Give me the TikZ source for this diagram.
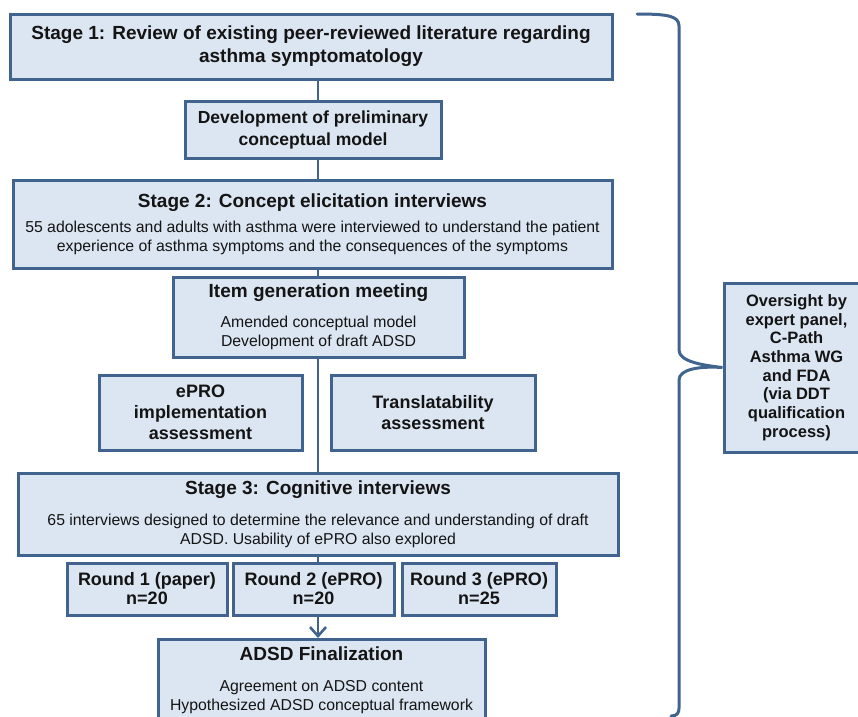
\documentclass[tikz,border=0pt]{standalone}
\usepackage{fontspec}
\setmainfont{Liberation Sans}
\usetikzlibrary{arrows.meta}
\definecolor{bord}{HTML}{41648F}
\definecolor{boxfill}{HTML}{DCE6F2}
\definecolor{txt}{HTML}{141414}
\newcommand\ttlfont{\fontsize{19}{23}\selectfont\bfseries}
\newcommand\bodyfont{\fontsize{15.8}{19}\selectfont}
\newcommand\devfont{\fontsize{17.5}{22}\selectfont\bfseries}
\newcommand\smallbold{\fontsize{18}{21}\selectfont\bfseries}
\newcommand\roundfont{\fontsize{18}{19}\selectfont\bfseries}
\newcommand\overfont{\fontsize{16.5}{18.7}\selectfont\bfseries}
\tikzset{
  box/.style={draw=bord, fill=boxfill, line width=3pt, inner sep=0pt, align=center, text=txt},
  conn/.style={draw=bord, line width=2.6pt},
}
\begin{document}
\begin{tikzpicture}[x=1pt,y=-1pt]
\path[use as bounding box] (0,0) rectangle (858,716);
\clip (0,0) rectangle (858,716);

\node[box, font=\ttlfont, minimum width=602, minimum height=65] (s1) at (311,46.5)
  {Stage 1: Review of existing peer-reviewed literature regarding\\asthma symptomatology};
\node[box, font=\devfont, minimum width=256, minimum height=57] (dev) at (313,129.5)
  {Development of preliminary\\conceptual model};
\node[box, font=\bodyfont, minimum width=599, minimum height=88] (s2) at (312.5,224)
  {{\ttlfont Stage 2: Concept elicitation interviews}\\[6pt]55 adolescents and adults with asthma were interviewed to understand the patient\\experience of asthma symptoms and the consequences of the symptoms};
\node[box, font=\bodyfont, minimum width=291, minimum height=80] (item) at (318.5,317)
  {{\ttlfont Item generation meeting}\\[11pt]Amended conceptual model\\Development of draft ADSD};
\node[box, font=\smallbold, minimum width=203, minimum height=75] (epro) at (200.5,412.5)
  {ePRO\\implementation\\assessment};
\node[box, font=\smallbold, minimum width=204, minimum height=75] (trans) at (433,412.5)
  {Translatability\\assessment};
\node[box, font=\bodyfont, minimum width=600, minimum height=82] (s3) at (318,514)
  {{\ttlfont Stage 3: Cognitive interviews}\\[12pt]65 interviews designed to determine the relevance and understanding of draft\\ADSD. Usability of ePRO also explored};
\node[box, font=\roundfont, minimum width=160, minimum height=52] (r1) at (147,589)
  {Round 1 (paper)\\n=20};
\node[box, font=\roundfont, minimum width=161, minimum height=52] (r2) at (313.5,589)
  {Round 2 (ePRO)\\n=20};
\node[box, font=\roundfont, minimum width=154, minimum height=52] (r3) at (479,589)
  {Round 3 (ePRO)\\n=25};
\node[box, font=\bodyfont, minimum width=327, minimum height=82] (adsd) at (321.5,680.5)
  {{\ttlfont ADSD Finalization}\\[12pt]Agreement on ADSD content\\Hypothesized ADSD conceptual framework};
\node[box, font=\overfont, minimum width=145, minimum height=169] (over) at (796.5,367.5)
  {Oversight by\\expert panel,\\C-Path\\Asthma WG\\and FDA\\(via DDT\\qualification\\process)};

\coordinate (spine) at (318,0);
\draw[conn] (s1.south -| spine) -- (dev.north -| spine);
\draw[conn] (dev.south -| spine) -- (s2.north -| spine);
\draw[conn] (s2.south -| spine) -- (item.north -| spine);
\draw[conn] (item.south -| spine) -- (s3.north -| spine);
\draw[conn] (s3.south -| spine) -- (r2.north -| spine);
\draw[conn, -{Straight Barb[length=9pt,width=16pt,line width=2.6pt]}] (r2.south -| spine) -- (adsd.north -| spine);

\coordinate (btop) at (637,14);
\coordinate (bbot) at (671,716);
\draw[conn, line width=3pt, line cap=round] (btop) .. controls (668,14) and (679,16) .. (679,26) -- (679,350)
  .. controls (679,361) and (700,365) .. (over.west)
  .. controls (700,366) and (679,369) .. (679,380) -- (679,708)
  .. controls (679,713) and (677,716) .. (bbot);
\end{tikzpicture}
\end{document}
